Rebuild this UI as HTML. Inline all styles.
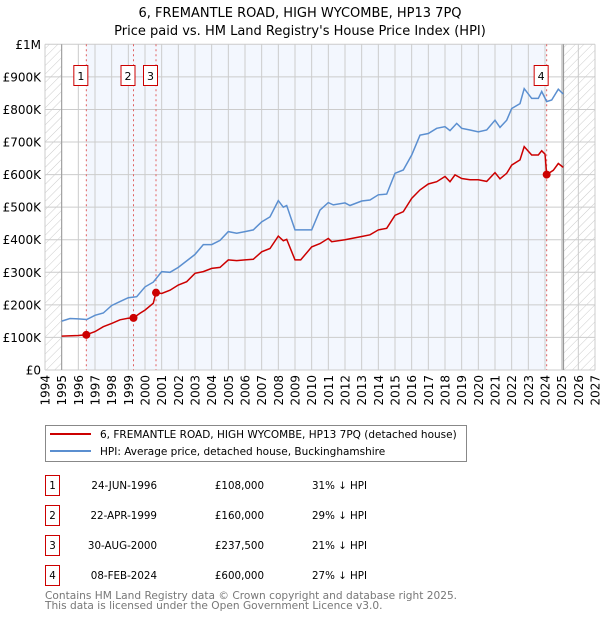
<!DOCTYPE html>
<html><head><meta charset="utf-8"><style>
body{margin:0;background:#fff;font-family:"DejaVu Sans","Liberation Sans",sans-serif;}
svg text{font-family:"DejaVu Sans","Liberation Sans",sans-serif;}
</style></head><body>
<svg id="c" width="600" height="620" xmlns="http://www.w3.org/2000/svg">
<defs><pattern id="hatch" width="6" height="6" patternUnits="userSpaceOnUse" patternTransform="rotate(45)"><line x1="0" y1="0" x2="0" y2="6" stroke="#ccc" stroke-width="1"/></pattern></defs>
<text x="300" y="17" text-anchor="middle" font-size="13">6, FREMANTLE ROAD, HIGH WYCOMBE, HP13 7PQ</text>
<text x="300" y="35" text-anchor="middle" font-size="13">Price paid vs. HM Land Registry's House Price Index (HPI)</text>
<g id="plot"></g>
<g id="legend">
<rect x="45.5" y="425.5" width="421" height="36" fill="#fff" stroke="#888"/>
<line x1="50" y1="434" x2="91" y2="434" stroke="#cc0000" stroke-width="2"/>
<text x="100" y="438" font-size="10.5">6, FREMANTLE ROAD, HIGH WYCOMBE, HP13 7PQ (detached house)</text>
<line x1="50" y1="451" x2="91" y2="451" stroke="#5b8fd0" stroke-width="2"/>
<text x="100" y="455" font-size="10.5">HPI: Average price, detached house, Buckinghamshire</text>
</g>
<g id="table"></g>
<text x="45" y="599" font-size="10.6" fill="#777">Contains HM Land Registry data © Crown copyright and database right 2025.</text>
<text x="45" y="609" font-size="10.6" fill="#777">This data is licensed under the Open Government Licence v3.0.</text>
</svg>
<script>
const hpiYears=[1995,1995.5,1996,1996.5,1997,1997.5,1998,1998.5,1999,1999.5,2000,2000.5,2001,2001.5,2002,2002.5,2003,2003.5,2004,2004.5,2005,2005.5,2006,2006.5,2007,2007.5,2008,2008.3,2008.5,2009,2009.34,2010,2010.5,2011,2011.3,2012,2012.3,2013,2013.5,2014,2014.5,2015,2015.5,2016,2016.5,2017,2017.5,2018,2018.3,2018.7,2019,2019.5,2020,2020.5,2021,2021.3,2021.7,2022,2022.5,2022.75,2023.2,2023.6,2023.8,2024.1,2024.4,2024.8,2025.1];
const hpiValues=[150,158,157,155,168,175,198,210,222,225,255,270,302,300,315,335,355,385,385,398,425,420,425,430,455,470,520,500,505,430,430,430,491,514,507,513,505,519,522,538,540,604,614,660,721,726,742,747,735,757,742,737,731,737,767,745,767,803,818,864,834,834,855,824,829,862,847];
const redYears=[1995,1996,1996.48,1997,1997.5,1998,1998.5,1999,1999.31,1999.7,2000,2000.5,2000.66,2001,2001.5,2002,2002.5,2003,2003.5,2004,2004.5,2005,2005.5,2006,2006.5,2007,2007.5,2008,2008.3,2008.5,2009,2009.34,2010,2010.5,2011,2011.2,2012,2013,2013.5,2014,2014.5,2015,2015.5,2016,2016.5,2017,2017.5,2018,2018.3,2018.6,2019,2019.5,2020,2020.5,2021,2021.3,2021.7,2022,2022.5,2022.75,2023.2,2023.6,2023.8,2024.0,2024.1,2024.5,2024.8,2025.1];
const redValues=[104,106,108,118,133,143,154,159,160,174,184,205,237.5,235,245,261,271,297,302,312,315,338,336,338,340,363,373,411,397,401,338,338,378,388,404,394,400,410,415,430,435,475,486,527,553,571,578,594,578,599,588,584,584,579,606,587,604,629,645,686,660,660,673,663,600,613,634,622];
const saleYears=[1996.48,1999.31,2000.66,2024.1];
const saleValues=[108,160,237.5,600];
const saleLabels=["1","2","3","4"];
const saleDates=["24-JUN-1996","22-APR-1999","30-AUG-2000","08-FEB-2024"];
const salePrices=["£108,000","£160,000","£237,500","£600,000"];
const salePcts=["31% ↓ HPI","29% ↓ HPI","21% ↓ HPI","27% ↓ HPI"];
const yTicks=[0,100,200,300,400,500,600,700,800,900,1000];
const yTickLabels=["£0","£100K","£200K","£300K","£400K","£500K","£600K","£700K","£800K","£900K","£1M"];
const x0=45,x1=595,y0=370,y1=44.3,yrMin=1994,yrMax=2027,dataEnd=2025.1;
const X=yr=>x0+(yr-yrMin)/(yrMax-yrMin)*(x1-x0);
const Y=v=>y0-(v/1000)*(y0-y1);
const NS="http://www.w3.org/2000/svg";
function mk(tag,attrs,parent,txt){const e=document.createElementNS(NS,tag);for(const k in attrs)e.setAttribute(k,attrs[k]);if(txt!==undefined)e.textContent=txt;parent.appendChild(e);return e;}
const g=document.getElementById('plot');
let r=mk('rect',{x:x0,y:y1,width:x1-x0,height:y0-y1,fill:'#fff'},g);


r=mk('rect',{x:X(saleYears[0]),y:y1,width:X(saleYears[3])-X(saleYears[0]),height:y0-y1,fill:'#f3f7fe'},g);


r=mk('rect',{x:x0,y:y1,width:X(1995)-x0,height:y0-y1,fill:'url(#hatch)'},g);


r=mk('rect',{x:X(dataEnd),y:y1,width:x1-X(dataEnd),height:y0-y1,fill:'url(#hatch)'},g);


for(let yr=yrMin;yr<=yrMax;yr++){
  let l=mk('line',{x1:X(yr),x2:X(yr),y1:y1,y2:y0,stroke:'#ccc','stroke-width':1},g);
  
  
  const t=mk('text',{x:0,y:0,'font-size':12,'text-anchor':'end',transform:`translate(${X(yr)+4.5},${y0+5}) rotate(-90)`},g,String(yr));
  
  
}
yTicks.forEach((v,i)=>{
  let l=mk('line',{x1:x0,x2:x1,y1:Y(v),y2:Y(v),stroke:'#ccc','stroke-width':1},g);
  
  
  const t=mk('text',{x:41,y:Y(v)+4.5,'font-size':12,'text-anchor':'end'},g,yTickLabels[i]);
  
  
});
let l=mk('line',{x1:X(1995),x2:X(1995),y1:y1,y2:y0,stroke:'#999','stroke-width':1},g);


l=mk('line',{x1:X(dataEnd),x2:X(dataEnd),y1:y1,y2:y0,stroke:'#999','stroke-width':1.5},g);


saleYears.forEach((yr,i)=>{
  const d=mk('line',{x1:X(yr),x2:X(yr),y1:y1,y2:y0,stroke:'#e06060','stroke-width':1,'stroke-dasharray':'2,3'},g);
  
  
  const b=mk('rect',{x:X(yr)-12.5,y:65.5,width:14,height:20,fill:'#fff',stroke:'#cc0000'},g);
  
  
  const t=mk('text',{x:X(yr)-5.5,y:80,'font-size':11,'text-anchor':'middle'},g,saleLabels[i]);
  
  
});
let p=mk('path',{d:hpiYears.map((yr,i)=>(i?'L':'M')+X(yr).toFixed(1)+','+Y(hpiValues[i]).toFixed(1)).join(''),fill:'none',stroke:'#5b8fd0','stroke-width':1.5},g);


p=mk('path',{d:redYears.map((yr,i)=>(i?'L':'M')+X(yr).toFixed(1)+','+Y(redValues[i]).toFixed(1)).join(''),fill:'none',stroke:'#cc0000','stroke-width':1.5},g);


saleYears.forEach((yr,i)=>{
  const c=mk('circle',{cx:X(yr),cy:Y(saleValues[i]),r:4,fill:'#cc0000'},g);
  
  
});
const tb=document.getElementById('table');
saleLabels.forEach((lab,i)=>{
  const y=475+i*30;
  const b=mk('rect',{x:45.5,y:y+0.5,width:14,height:20,fill:'#fff',stroke:'#cc0000'},tb);
  
  
  let t=mk('text',{x:52.5,y:y+14,'font-size':10.3,'text-anchor':'middle'},tb,lab);
  
  
  t=mk('text',{x:157,y:y+14,'font-size':10.3,'text-anchor':'end'},tb,saleDates[i]);
  
  
  t=mk('text',{x:264,y:y+14,'font-size':10.3,'text-anchor':'end'},tb,salePrices[i]);
  
  
  t=mk('text',{x:312,y:y+14,'font-size':10.3},tb,salePcts[i]);
  
  
});
</script>
</body></html>
